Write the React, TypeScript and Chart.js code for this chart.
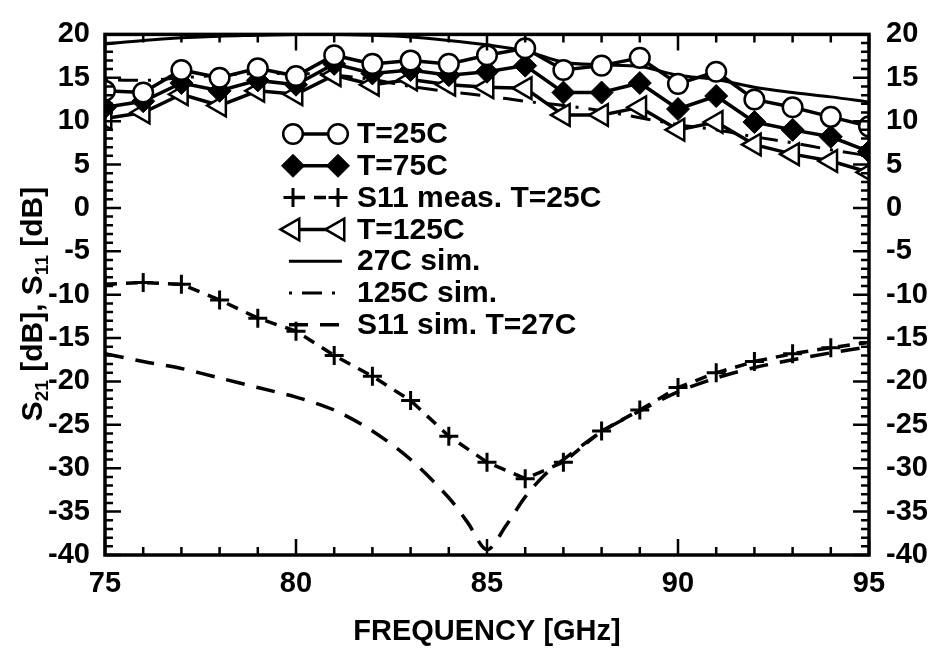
import React, { useEffect, useRef } from 'react';
import { Chart, registerables } from 'chart.js';
import { drawPoint } from 'chart.js/helpers';

Chart.register(...registerables);

const freqs = [75, 76, 77, 78, 79, 80, 81, 82, 83, 84, 85, 86, 87, 88, 89, 90, 91, 92, 93, 94, 95];
const t25 = [13.5, 13.3, 15.9, 15.0, 16.1, 15.2, 17.6, 16.6, 17.0, 16.6, 17.6, 18.4, 15.9, 16.4, 17.3, 14.3, 15.7, 12.5, 11.6, 10.5, 9.4];
const t75 = [11.6, 12.3, 14.4, 13.5, 14.7, 14.2, 16.6, 15.5, 15.9, 15.3, 15.7, 16.4, 13.3, 13.3, 14.4, 11.4, 12.9, 9.9, 9.0, 8.2, 6.5];
const s11Meas = [-8.8, -8.6, -8.8, -10.6, -12.7, -14.2, -17.0, -19.4, -22.2, -26.3, -29.3, -31.2, -29.3, -25.7, -23.3, -20.7, -19.0, -17.7, -16.8, -16.1, -15.5];
const t125 = [10.3, 11.0, 13.1, 11.8, 13.5, 13.1, 15.3, 14.2, 14.8, 14.2, 13.9, 13.8, 10.7, 10.7, 11.6, 9.0, 9.9, 7.3, 6.2, 5.4, 4.1];
const sim27 = [18.9, 19.3, 19.6, 19.8, 19.9, 20.0, 20.0, 19.9, 19.7, 19.3, 18.8, 18.1, 16.8, 16.5, 16.3, 15.3, 14.8, 13.9, 13.3, 12.8, 12.2];
const sim125 = [14.8, 14.7, 15.0, 15.3, 15.5, 15.5, 15.3, 14.8, 14.0, 13.4, 12.9, 12.3, 11.8, 11.2, 10.4, 9.6, 9.0, 8.2, 7.5, 6.7, 6.0];
const s11SimFreqs = [75, 76, 77, 78, 79, 80, 81, 82, 83, 84, 84.5, 85, 85.5, 86, 86.5, 87, 88, 89, 90, 91, 92, 93, 94, 95];
const s11SimVals = [-16.8, -17.7, -18.5, -19.6, -20.7, -21.8, -23.3, -25.7, -29.0, -33.4, -36.3, -39.4, -36.6, -33.3, -30.8, -29.0, -25.8, -23.4, -21.2, -19.6, -18.4, -17.5, -16.7, -16.0];

const seriesLabels = ['T=25C', 'T=75C', 'S11 meas. T=25C', 'T=125C', '27C sim.', '125C sim.', 'S11 sim. T=27C'];
const xTitle = 'FREQUENCY [GHz]';
const yTitleParts: [string, boolean][] = [['S', false], ['21', true], [' [dB], S', false], ['11', true], [' [dB]', false]];

const FONT = '"Liberation Sans", Arial, sans-serif';

const pts = (xs: number[], ys: number[]) => xs.map((x, i) => ({ x, y: ys[i] }));

const framePlugin = {
  id: 'frameTicks',
  afterDraw(chart: any) {
    const { ctx, chartArea } = chart;
    const { left, right, top, bottom } = chartArea;
    const xs = chart.scales.x;
    const ys = chart.scales.y;
    ctx.save();
    ctx.strokeStyle = '#000';
    ctx.lineWidth = 2.5;
    ctx.beginPath();
    for (let v = 75; v <= 95; v++) {
      const len = v % 5 === 0 ? 16 : 8;
      const px = xs.getPixelForValue(v);
      ctx.moveTo(px, bottom); ctx.lineTo(px, bottom - len);
      ctx.moveTo(px, top); ctx.lineTo(px, top + len);
    }
    for (let v = -40; v <= 20; v++) {
      const len = v % 5 === 0 ? 16 : 8;
      const py = ys.getPixelForValue(v);
      ctx.moveTo(left, py); ctx.lineTo(left + len, py);
      ctx.moveTo(right, py); ctx.lineTo(right - len, py);
    }
    ctx.stroke();
    ctx.lineWidth = 3.5;
    ctx.strokeRect(left, top, right - left, bottom - top);

    // axis titles
    ctx.fillStyle = '#000';
    ctx.font = `bold 29px ${FONT}`;
    ctx.textAlign = 'center';
    ctx.textBaseline = 'middle';
    ctx.fillText(xTitle, (left + right) / 2, 632);

    ctx.translate(31, 304);
    ctx.rotate(-Math.PI / 2);
    const big = `bold 30px ${FONT}`;
    const small = `bold 19px ${FONT}`;
    let total = 0;
    yTitleParts.forEach(([t, sub]) => { ctx.font = sub ? small : big; total += ctx.measureText(t).width; });
    let x = -total / 2;
    ctx.textAlign = 'left';
    ctx.textBaseline = 'alphabetic';
    yTitleParts.forEach(([t, sub]) => {
      ctx.font = sub ? small : big;
      ctx.fillText(t, x, sub ? 17 : 11);
      x += ctx.measureText(t).width;
    });
    ctx.restore();
  },
};

const legendPlugin = {
  id: 'customLegend',
  afterDatasetsDraw(chart: any) {
    const ctx = chart.ctx;
    const x1 = 293, x2 = 338, textX = 357, y0 = 134, dy = 31.8;
    chart.data.datasets.forEach((ds: any, i: number) => {
      const y = y0 + i * dy;
      ctx.save();
      ctx.strokeStyle = '#000';
      ctx.lineWidth = ds.borderWidth;
      ctx.setLineDash(ds.borderDash || []);
      ctx.beginPath();
      const hasMarker = ds.pointRadius > 0;
      ctx.moveTo(hasMarker ? x1 : x1 - 4, y);
      ctx.lineTo(hasMarker ? x2 : x2 + 4, y);
      ctx.stroke();
      ctx.setLineDash([]);
      if (hasMarker) {
        [x1, x2].forEach((px) => {
          ctx.fillStyle = ds.pointBackgroundColor;
          ctx.strokeStyle = '#000';
          ctx.lineWidth = ds.pointBorderWidth;
          drawPoint(ctx, { pointStyle: ds.pointStyle, radius: ds.pointRadius, rotation: ds.pointRotation || 0, borderWidth: ds.pointBorderWidth }, px, y);
        });
      }
      ctx.fillStyle = '#000';
      ctx.font = `bold 30px ${FONT}`;
      ctx.textAlign = 'left';
      ctx.textBaseline = 'middle';
      ctx.fillText(ds.label, textX, y + 1);
      ctx.restore();
    });
  },
};

export default function App() {
  const ref = useRef<HTMLCanvasElement | null>(null);
  useEffect(() => {
    if (!ref.current) return;
    const tickFont = { family: FONT, weight: 'bold' as const, size: 29 };
    const chart = new Chart(ref.current, {
      type: 'line',
      data: {
        datasets: [
          { label: seriesLabels[0], data: pts(freqs, t25), borderColor: '#000', borderWidth: 3.5, pointStyle: 'circle', pointRadius: 9.8, pointBackgroundColor: '#fff', pointBorderColor: '#000', pointBorderWidth: 2.5, order: 1 },
          { label: seriesLabels[1], data: pts(freqs, t75), borderColor: '#000', borderWidth: 3.5, pointStyle: 'rectRot', pointRadius: 11.5, pointBackgroundColor: '#000', pointBorderColor: '#000', pointBorderWidth: 1, order: 2 },
          { label: seriesLabels[2], data: pts(freqs, s11Meas), borderColor: '#000', borderWidth: 3.5, borderDash: [12, 9], pointStyle: 'cross', pointRadius: 9.5, pointBackgroundColor: '#000', pointBorderColor: '#000', pointBorderWidth: 3, order: 4 },
          { label: seriesLabels[3], data: pts(freqs, t125), borderColor: '#000', borderWidth: 3.5, pointStyle: 'triangle', pointRotation: -90, pointRadius: 12.5, pointBackgroundColor: '#fff', pointBorderColor: '#000', pointBorderWidth: 2.5, order: 3 },
          { label: seriesLabels[4], data: pts(freqs, sim27), borderColor: '#000', borderWidth: 3, pointRadius: 0, cubicInterpolationMode: 'monotone', order: 5 },
          { label: seriesLabels[5], data: pts(freqs, sim125), borderColor: '#000', borderWidth: 3, borderDash: [3, 10, 20, 10], pointRadius: 0, cubicInterpolationMode: 'monotone', order: 6 },
          { label: seriesLabels[6], data: pts(s11SimFreqs, s11SimVals), borderColor: '#000', borderWidth: 3.5, borderDash: [19, 12], pointRadius: 0, tension: 0.3, order: 7 },
        ] as any,
      },
      options: {
        animation: false,
        responsive: true,
        maintainAspectRatio: false,
        layout: { padding: { top: 20, left: 0, right: 0, bottom: 0 } },
        plugins: { legend: { display: false }, tooltip: { enabled: false } },
        scales: {
          x: {
            type: 'linear', min: 75, max: 95,
            ticks: { stepSize: 5, font: tickFont, color: '#000', padding: 12, maxRotation: 0 },
            grid: { display: false, drawTicks: false },
            border: { display: false },
            afterFit: (s: any) => { s.height = 97; },
          },
          y: {
            type: 'linear', position: 'left', min: -40, max: 20,
            ticks: { stepSize: 5, font: tickFont, color: '#000', padding: 15, callback: (v: any) => String(v) },
            grid: { display: false, drawTicks: false },
            border: { display: false },
            afterFit: (s: any) => { s.width = 105; },
          },
          y2: {
            type: 'linear', position: 'right', min: -40, max: 20,
            ticks: { stepSize: 5, font: tickFont, color: '#000', padding: 17, callback: (v: any) => String(v) },
            grid: { display: false, drawTicks: false },
            border: { display: false },
            afterFit: (s: any) => { s.width = 64; },
          },
        },
      } as any,
      plugins: [framePlugin, legendPlugin],
    });
    return () => chart.destroy();
  }, []);
  return (
    <div style={{ position: 'absolute', left: 0, top: 0, width: 933, height: 652, background: '#fff' }}>
      <canvas ref={ref} />
    </div>
  );
}
